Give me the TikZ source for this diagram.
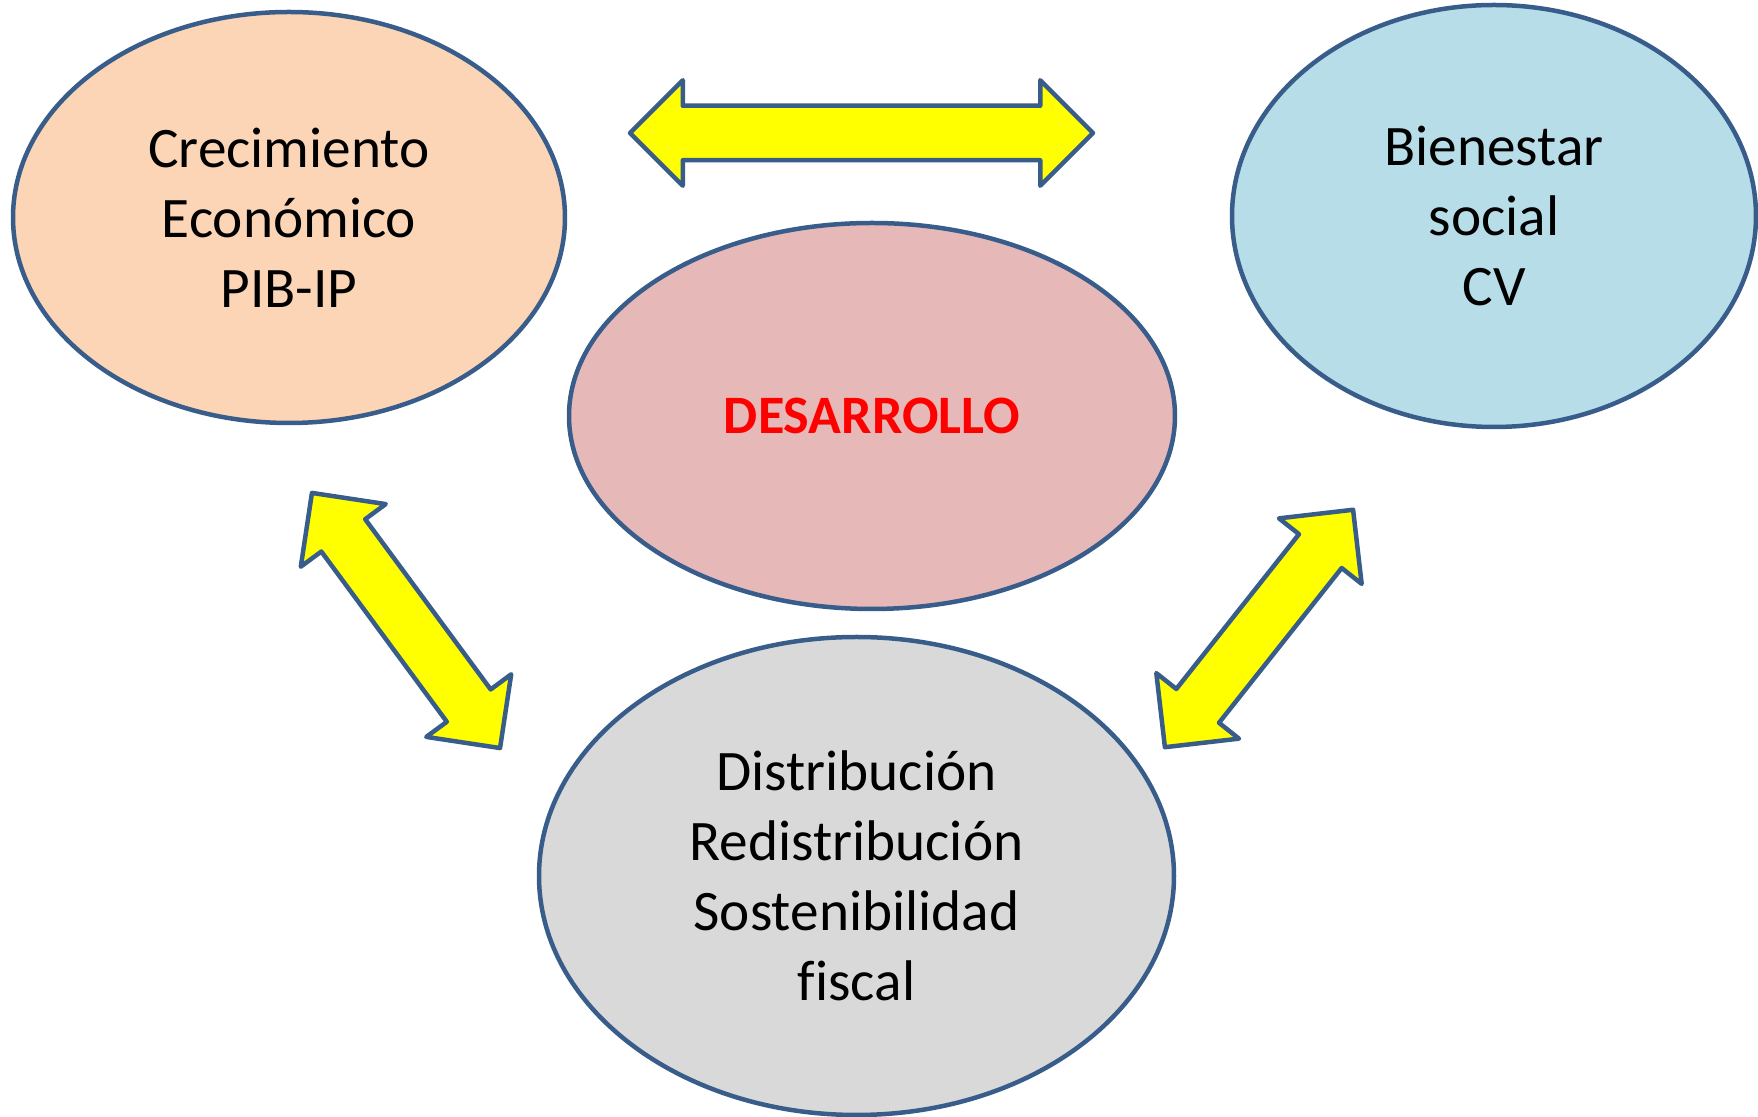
\documentclass[tikz,border=0pt]{standalone}
\usepackage{fontspec}
\setmainfont{Carlito}[Ligatures=NoCommon]
\usetikzlibrary{shapes.geometric,shapes.arrows}
\definecolor{rimblue}{HTML}{385D8A}
\definecolor{growfill}{HTML}{FBD5B5}
\definecolor{wellfill}{HTML}{B7DEE8}
\definecolor{devfill}{HTML}{E6B9B8}
\definecolor{distfill}{HTML}{D9D9D9}
\definecolor{arrowfill}{HTML}{FFFF00}
\definecolor{devred}{HTML}{FF0000}
\tikzstyle{bubble}=[
    ellipse,
    draw=rimblue,
    line width=0.45mm,
    inner sep=0pt,
    align=center,
    font=\fontsize{16.3}{19.9}\selectfont,
]
\tikzstyle{linkarrow}=[
    double arrow,
    draw=rimblue,
    fill=arrowfill,
    line width=0.45mm,
    line join=round,
    inner sep=2.5mm,
    double arrow head extend=2.55mm,
]

\begin{document}
\begin{tikzpicture}[x=0.1mm, y=-0.1mm]
        \useasboundingbox (0,0) rectangle (1758,1117);
        % the four ellipses
        \node (grow) at (289, 217.5) [bubble, fill=growfill, minimum width=55.2mm, minimum height=41.1mm]
            {Crecimiento\\Económico\\PIB-IP};
        \node (welfare) at (1494, 216) [bubble, fill=wellfill, minimum width=52.4mm, minimum height=42.2mm]
            {Bienestar\\social\\CV};
        \node (develop) at (872, 416) [bubble, fill=devfill, minimum width=60.6mm, minimum height=38.6mm]
            {\fontsize{15.4}{19}\selectfont\textcolor{devred}{\bfseries DESARROLLO}};
        \node (distrib) at (856.5, 876) [bubble, fill=distfill, minimum width=63.5mm, minimum height=47.8mm]
            {Distribución\\Redistribución\\Sostenibilidad\\fiscal};
        % the yellow double arrows
        \node (toplink) at (861.5, 133) [linkarrow, minimum height=46.3mm] {};
        \node (leftlink) at (406, 620.5) [linkarrow, minimum height=31.7mm, rotate=-53.6] {};
        \node (rightlink) at (1259, 628.5) [linkarrow, minimum height=30.3mm, rotate=51.6] {};
    \end{tikzpicture}
\end{document}
